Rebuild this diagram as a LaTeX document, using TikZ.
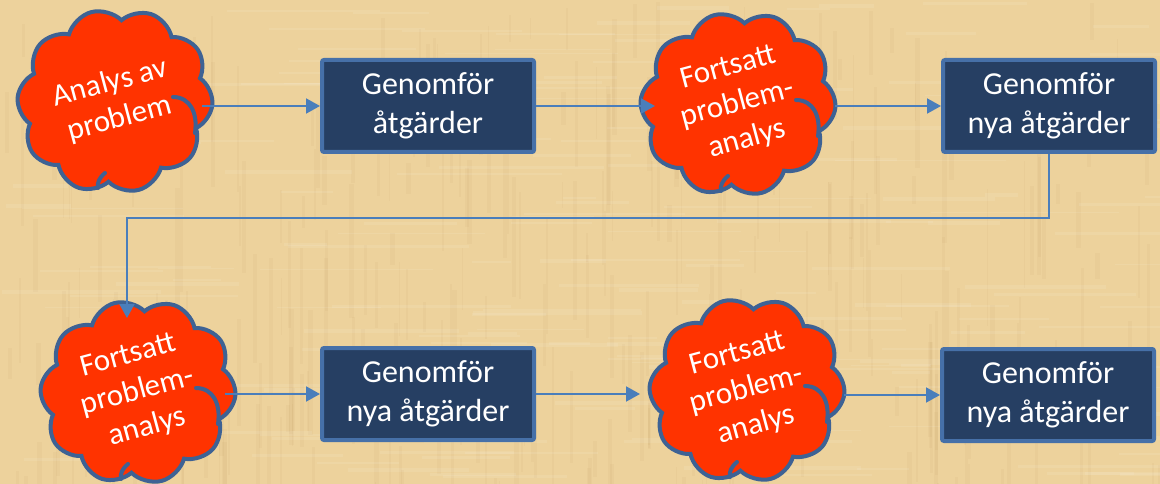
\documentclass[tikz,border=0pt]{standalone}
\usepackage{fontspec}
\setmainfont{Carlito}
\usetikzlibrary{shapes.symbols,arrows.meta,calc}
\definecolor{bgtan}{RGB}{237,210,156}
\definecolor{streak}{RGB}{175,135,75}
\definecolor{cloudred}{RGB}{255,51,0}
\definecolor{cloudedge}{RGB}{62,98,148}
\definecolor{boxfill}{RGB}{38,63,99}
\definecolor{boxedge}{RGB}{70,112,168}
\definecolor{linkblue}{RGB}{74,126,187}
\tikzset{
  stepbox/.style={draw=boxedge, fill=boxfill, line width=4pt, rounded corners=2pt,
    minimum width=212pt, minimum height=92pt, align=center, text=white,
    font=\fontsize{32}{39}\selectfont, inner sep=0pt},
  cloudnode/.style={cloud, cloud puffs=10, cloud puff arc=120, aspect=1.05,
    draw=cloudedge, fill=cloudred, line width=4pt,
    minimum width=196pt, minimum height=184pt, rotate=15, align=center,
    text=white, font=\fontsize{31}{37}\selectfont, inner sep=0pt},
  cloudline/.style={draw=cloudedge, line width=4pt, line cap=round},
  conn/.style={draw=linkblue, line width=2pt, -{Triangle[length=14pt,width=15pt]}}
}
\newcommand\cloudmarks[1]{%
  \draw[cloudline] ($(#1)+(58,-4)$) .. controls ($(#1)+(75,-4)$) and ($(#1)+(83,12)$) .. ($(#1)+(80,32)$);
  \draw[cloudline] ($(#1)+(-10,72)$) .. controls ($(#1)+(-16,77)$) and ($(#1)+(-18,82)$) .. ($(#1)+(-17,87)$);
}
\begin{document}
\begin{tikzpicture}[x=1pt,y=-1pt]
\useasboundingbox (0,0) rectangle (1160,484);
\clip (0,0) rectangle (1160,484);
\fill[bgtan] (0,0) rectangle (1160,484);
% parchment texture
\pgfmathsetseed{7}
\foreach \i in {1,...,320}{
  \pgfmathsetmacro{\xx}{rnd*1160}
  \pgfmathsetmacro{\yy}{rnd*484}
  \pgfmathsetmacro{\ll}{20+rnd*120}
  \pgfmathsetmacro{\ww}{1+rnd*4}
  \fill[streak, opacity=0.06] (\xx,\yy) rectangle ++(\ww,\ll);
}
\foreach \i in {1,...,200}{
  \pgfmathsetmacro{\xx}{rnd*1160}
  \pgfmathsetmacro{\yy}{rnd*484}
  \pgfmathsetmacro{\ll}{30+rnd*160}
  \pgfmathsetmacro{\ww}{1+rnd*3}
  \fill[white, opacity=0.09] (\xx,\yy) rectangle ++(\ll,\ww);
}
% nodes
\node[cloudnode] (c1) at (115,101) {Analys av\\problem};
\node[stepbox] (b1) at (428,106) {Genomför\\åtgärder};
\node[cloudnode] (c2) at (738,104) {Fortsatt\\problem-\\analys};
\node[stepbox] (b2) at (1049,106) {Genomför\\nya åtgärder};
\node[cloudnode] (c3) at (138,392) {Fortsatt\\problem-\\analys};
\node[stepbox] (b3) at (428,394) {Genomför\\nya åtgärder};
\node[cloudnode] (c4) at (747,390) {Fortsatt\\problem-\\analys};
\node[stepbox] (b4) at (1048,395) {Genomför\\nya åtgärder};
\cloudmarks{c1}
\cloudmarks{c2}
\cloudmarks{c3}
\cloudmarks{c4}
\coordinate (bend) at (127,218);
\coordinate (c3in) at (127,318);
% connectors
\draw[conn] (c1.east |- b1.west) -- (b1.west);
\draw[conn] (b1.east) -- ($(c2.center)+(-83,2)$);
\draw[conn, shorten <=10pt] (c2.east |- b2.west) -- (b2.west);
\draw[conn] (b2.south) |- (bend) -- (c3in);
\draw[conn] (c3.east |- b3.west) -- (b3.west);
\draw[conn] (b3.east) -- ($(c4.center)+(-107,4)$);
\draw[conn, shorten <=10pt] (c4.east |- b4.west) -- (b4.west);
\end{tikzpicture}
\end{document}
